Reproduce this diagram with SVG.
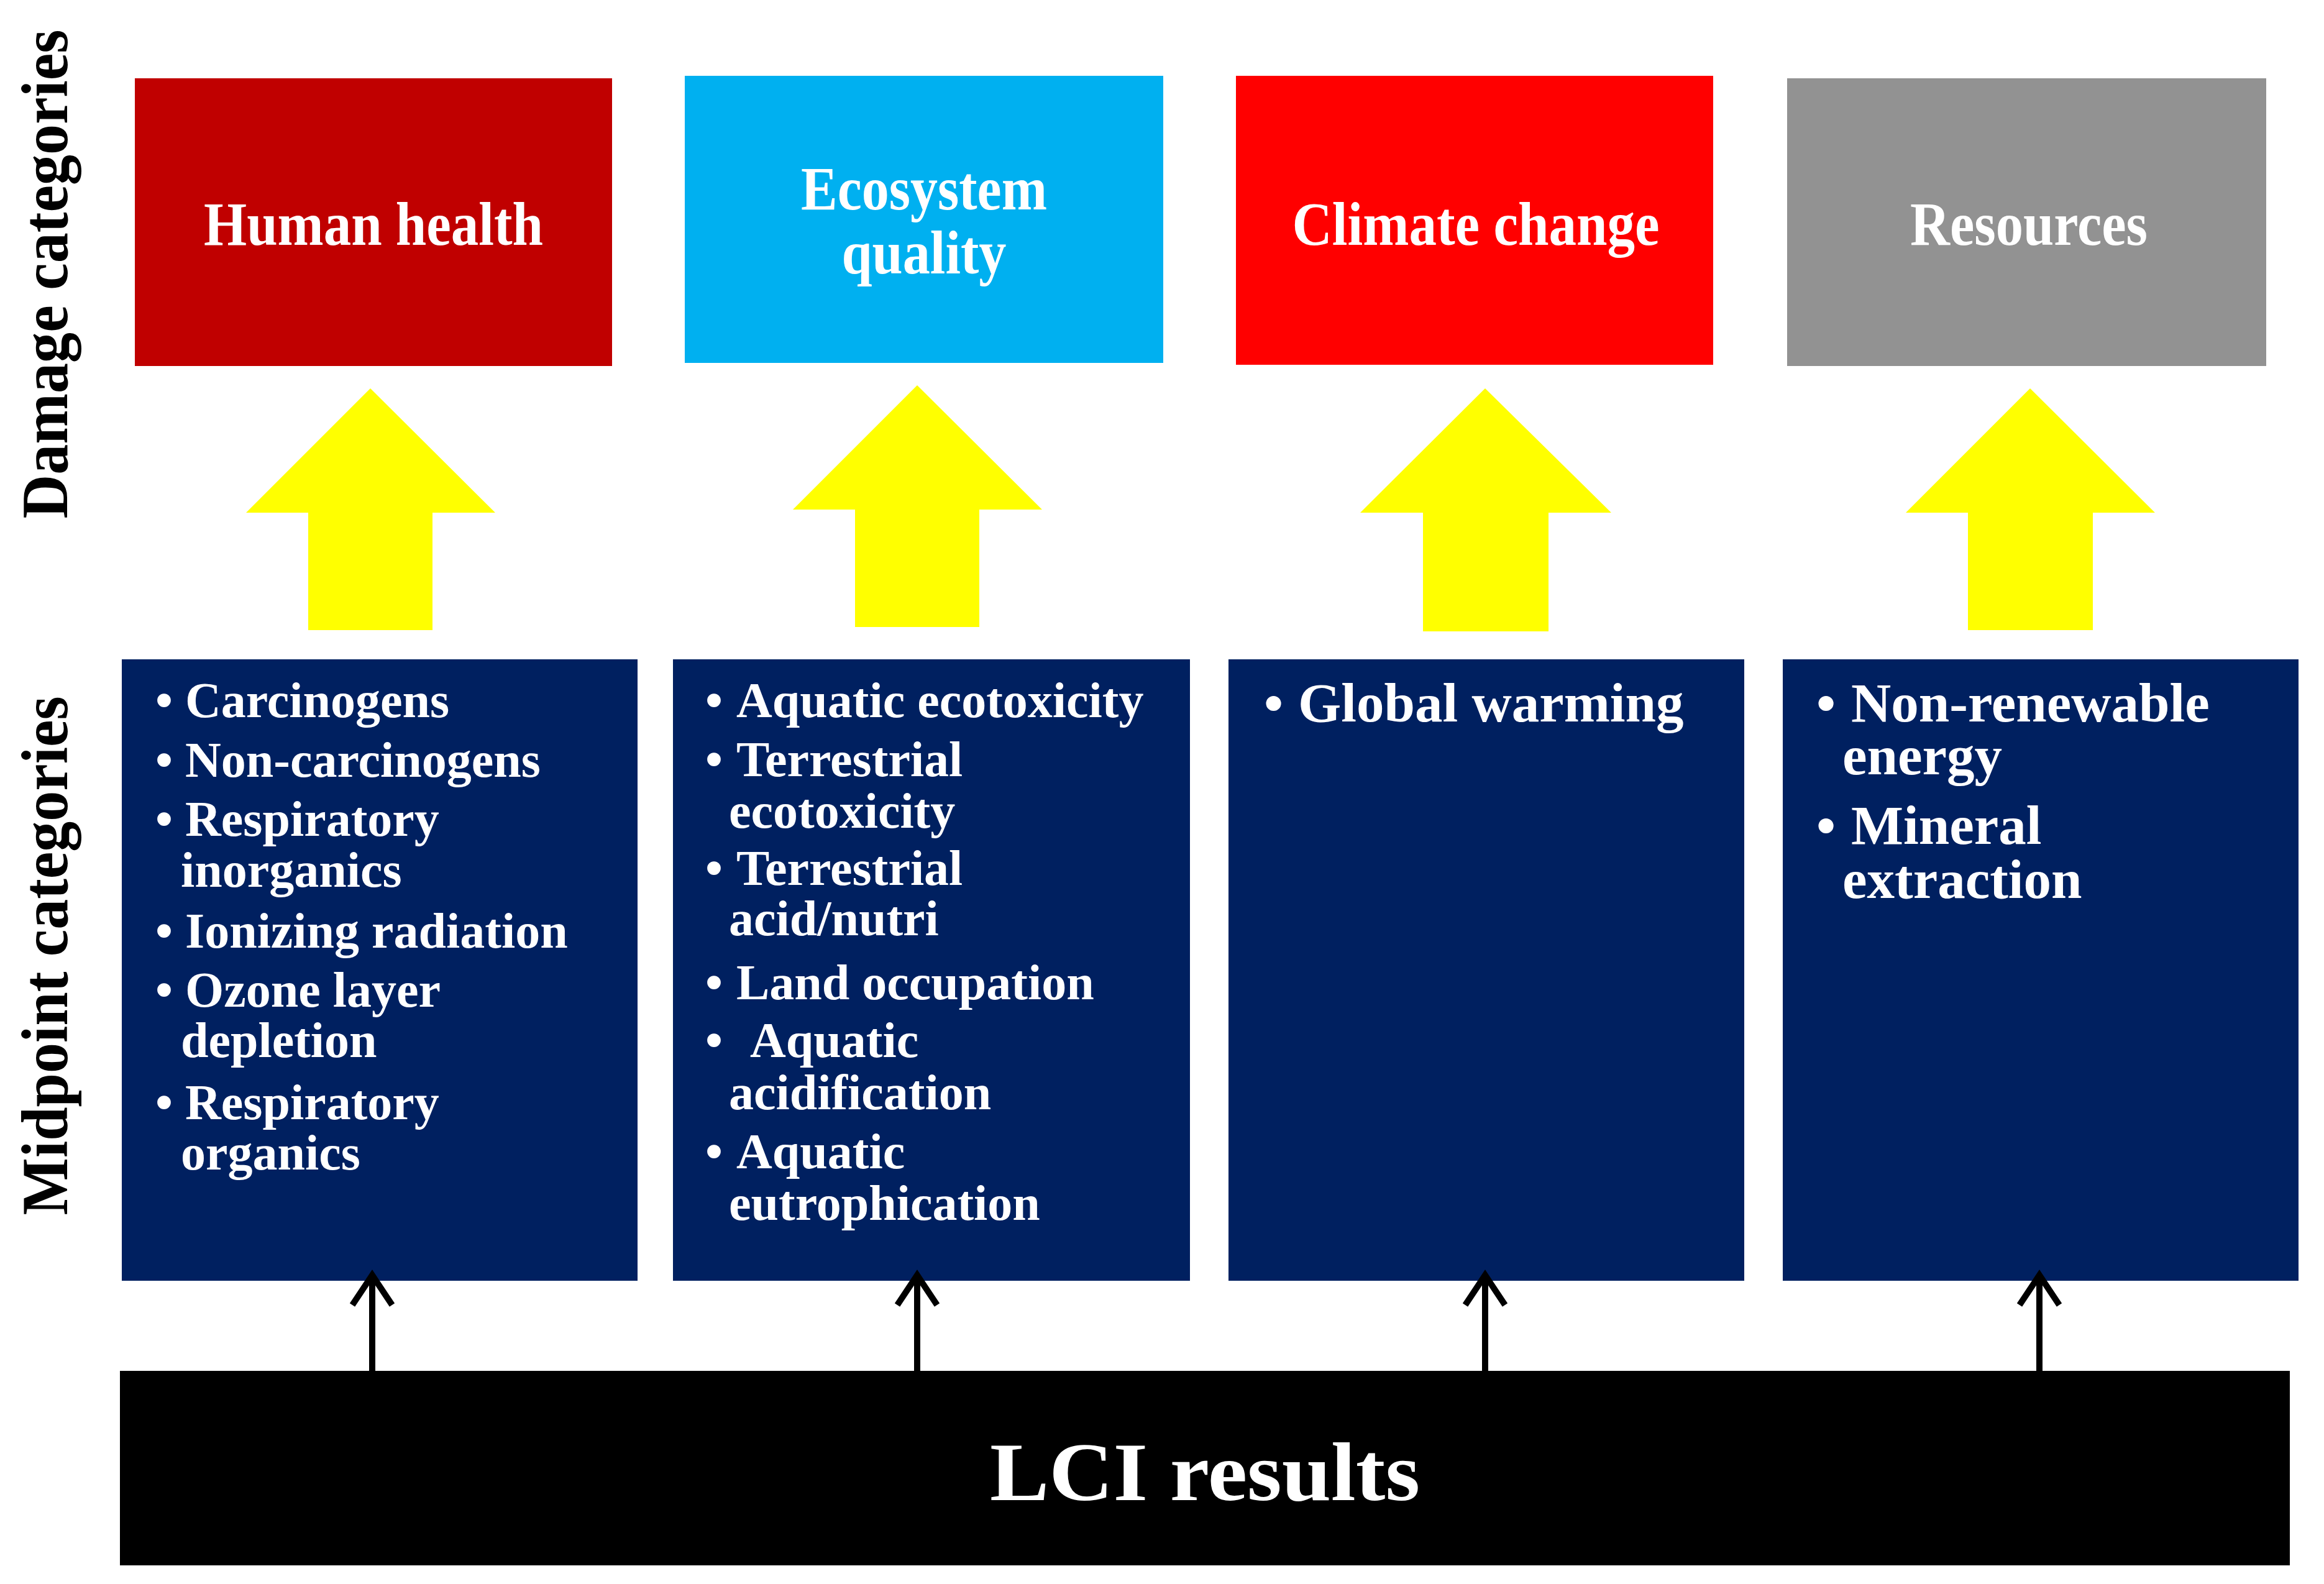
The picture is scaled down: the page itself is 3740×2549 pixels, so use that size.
<svg xmlns="http://www.w3.org/2000/svg" width="3740" height="2549" viewBox="0 0 3740 2549">
<style>
text{font-family:"Liberation Serif","Times New Roman",serif;font-weight:bold;fill:#fff}
.h{font-size:100px;text-anchor:middle}
.m{font-size:80px}
.g{font-size:89px}
.side{font-size:106px;fill:#000;text-anchor:middle}
.yl{fill:#ffff00}
.mid{fill:#002060}
.conn{stroke:#000;stroke-width:10;fill:none}
</style>
<rect width="3740" height="2549" fill="#fff"/>
<text class="side" transform="translate(108,441) rotate(-90)" textLength="787" lengthAdjust="spacingAndGlyphs">Damage categories</text>
<text class="side" transform="translate(108,1538) rotate(-90)" textLength="835" lengthAdjust="spacingAndGlyphs">Midpoint categories</text>

<g id="human-health"><rect x="217" y="126" width="768" height="463" fill="#c00000"/><text class="h" x="601" y="394" textLength="546" lengthAdjust="spacingAndGlyphs">Human health</text></g>
<g id="ecosystem-quality"><rect x="1102" y="122" width="770" height="462" fill="#00b0f0"/><text class="h" x="1487" y="337" textLength="396" lengthAdjust="spacingAndGlyphs">Ecosystem</text><text class="h" x="1487" y="440" textLength="265" lengthAdjust="spacingAndGlyphs">quality</text></g>
<g id="climate-change"><rect x="1989" y="122" width="768" height="465" fill="#ff0000"/><text class="h" x="2375" y="394" textLength="591" lengthAdjust="spacingAndGlyphs">Climate change</text></g>
<g id="resources"><rect x="2876" y="126" width="771" height="463" fill="#929292"/><text class="h" x="3265" y="394" textLength="382" lengthAdjust="spacingAndGlyphs">Resources</text></g>

<g id="yellow-arrows">
<polygon class="yl" points="596,625 797,825 696,825 696,1014 496,1014 496,825 396,825"/>
<polygon class="yl" points="1476,620 1677,820 1576,820 1576,1009 1376,1009 1376,820 1276,820"/>
<polygon class="yl" points="2390,625 2593,825 2492,825 2492,1016 2290,1016 2290,825 2189,825"/>
<polygon class="yl" points="3267,625 3468,825 3368,825 3368,1014 3167,1014 3167,825 3067,825"/>
</g>

<g id="midpoint-human">
<rect class="mid" x="196" y="1061" width="830" height="1000"/>
<g class="m">
<text x="250" y="1154">•</text><text x="298" y="1154">Carcinogens</text>
<text x="250" y="1250">•</text><text x="298" y="1250">Non-carcinogens</text>
<text x="250" y="1345">•</text><text x="298" y="1345">Respiratory</text>
<text x="291" y="1427">inorganics</text>
<text x="250" y="1525">•</text><text x="298" y="1525">Ionizing radiation</text>
<text x="250" y="1620">•</text><text x="298" y="1620">Ozone layer</text>
<text x="291" y="1701">depletion</text>
<text x="250" y="1801">•</text><text x="298" y="1801">Respiratory</text>
<text x="291" y="1882">organics</text>
</g></g>
<g id="midpoint-ecosystem">
<rect class="mid" x="1083" y="1061" width="832" height="1000"/>
<g class="m">
<text x="1135" y="1154">•</text><text x="1185" y="1154">Aquatic ecotoxicity</text>
<text x="1135" y="1249">•</text><text x="1185" y="1249">Terrestrial</text>
<text x="1173" y="1332">ecotoxicity</text>
<text x="1135" y="1424">•</text><text x="1185" y="1424">Terrestrial</text>
<text x="1173" y="1505">acid/nutri</text>
<text x="1135" y="1608">•</text><text x="1185" y="1608">Land occupation</text>
<text x="1135" y="1701">•</text><text x="1207" y="1701">Aquatic</text>
<text x="1173" y="1785">acidification</text>
<text x="1135" y="1880">•</text><text x="1185" y="1880">Aquatic</text>
<text x="1173" y="1963">eutrophication</text>
</g></g>
<g id="midpoint-climate">
<rect class="mid" x="1977" y="1061" width="830" height="1000"/>
<text class="g" x="2034" y="1161">•</text><text class="g" x="2089" y="1161">Global warming</text>
</g>
<g id="midpoint-resources">
<rect class="mid" x="2869" y="1061" width="830" height="1000"/>
<g class="g">
<text x="2923" y="1161">•</text><text x="2979" y="1161">Non-renewable</text>
<text x="2965" y="1246">energy</text>
<text x="2923" y="1358">•</text><text x="2979" y="1358">Mineral</text>
<text x="2965" y="1445">extraction</text>
</g></g>

<g id="lci-results"><rect x="193" y="2206" width="3492" height="313" fill="#000"/><text x="1939" y="2414" style="font-size:133px;text-anchor:middle" textLength="692" lengthAdjust="spacingAndGlyphs">LCI results</text></g>

<g id="connectors" class="conn">
<path d="M599,2206V2056M567,2100L599,2052L631,2100"/>
<path d="M1476,2206V2056M1444,2100L1476,2052L1508,2100"/>
<path d="M2390,2206V2056M2358,2100L2390,2052L2422,2100"/>
<path d="M3282,2206V2056M3250,2100L3282,2052L3314,2100"/>
</g>
</svg>
